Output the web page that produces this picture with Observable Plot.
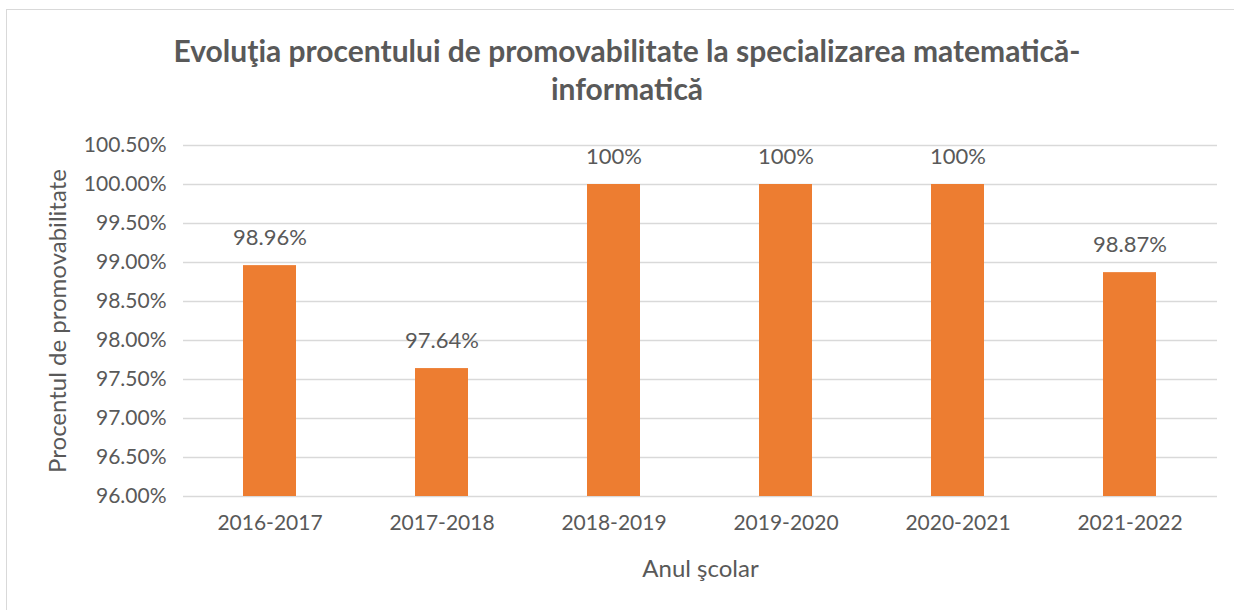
<!DOCTYPE html>
<html>
<head>
<meta charset="utf-8">
<script src="https://cdn.jsdelivr.net/npm/d3@7"></script>
<script src="https://cdn.jsdelivr.net/npm/@observablehq/plot@0.6"></script>
<style>
  html, body { margin: 0; padding: 0; background: #fff; }
  #wrap { position: relative; width: 1234px; height: 610px; overflow: hidden; font-family: Lato, "Open Sans", sans-serif; }
  #frame { position: absolute; left: 6px; top: 9px; width: 1260px; height: 640px; border: 1px solid #d9d9d9; box-sizing: border-box; }
  #title { position: absolute; left: 0; top: 31px; width: 1254px; text-align: center; color: #595959; font-weight: bold; font-size: 30px; line-height: 38px; }
  #chart { position: absolute; left: 0; top: 0; }
</style>
</head>
<body>
<div id="wrap">
  <div id="frame"></div>
  <div id="chart"></div>
  <div id="title">Evoluţia procentului de promovabilitate la specializarea matematică-<br>informatică</div>
</div>
<script>
const years = ["2016-2017", "2017-2018", "2018-2019", "2019-2020", "2020-2021", "2021-2022"];
const values = [98.96, 97.64, 100, 100, 100, 98.87];
const labels = ["98.96%", "97.64%", "100%", "100%", "100%", "98.87%"];
const yTicks = [96, 96.5, 97, 97.5, 98, 98.5, 99, 99.5, 100, 100.5];
const yMin = 96, yMax = 100.5;

const data = years.map((y, i) => ({year: y, value: values[i], label: labels[i]}));
const gray = "#595959";

const plot = Plot.plot({
  width: 1234,
  height: 610,
  marginTop: 145,
  marginBottom: 114,
  marginLeft: 183,
  marginRight: 17,
  style: {fontFamily: "Lato, 'Open Sans', sans-serif", color: gray, background: "transparent", overflow: "visible"},
  x: {domain: years, paddingInner: 0.69, paddingOuter: 0.345, label: null},
  y: {domain: [yMin, yMax], label: null},
  marks: [
    Plot.gridY(yTicks, {stroke: "#d9d9d9", strokeOpacity: 1, strokeWidth: 1.3}),
    Plot.barY(data, {x: "year", y1: () => yMin, y2: "value", fill: "#ED7D31"}),
    Plot.text(data, {x: "year", y: "value", text: "label", dy: -28, fontSize: 22, fill: gray}),
    Plot.axisY(yTicks, {tickSize: 0, tickPadding: 17, tickFormat: d => d.toFixed(2) + "%", fontSize: 21, fill: gray, label: null}),
    Plot.axisX({tickSize: 0, tickPadding: 19, fontSize: 21, fill: gray, label: null}),
    Plot.text(["Anul şcolar"], {frameAnchor: "bottom", dy: 80, fontSize: 24, fill: gray}),
    Plot.text(["Procentul de promovabilitate"], {frameAnchor: "left", textAnchor: "middle", dx: -125, rotate: -90, fontSize: 24, fill: gray})
  ]
});
document.getElementById("chart").appendChild(plot);
</script>
</body>
</html>
